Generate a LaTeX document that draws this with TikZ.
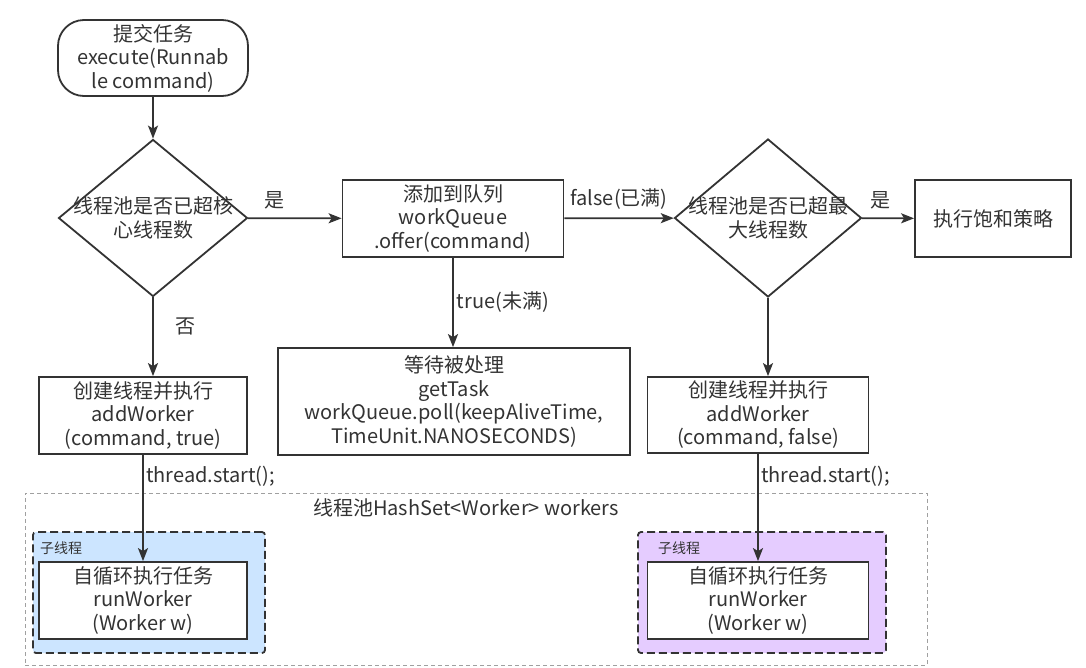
\documentclass[tikz,border=0pt]{standalone}
\usepackage{fontspec}
\setmainfont{Noto Sans CJK SC}
\usetikzlibrary{shapes.geometric, arrows.meta, positioning}
\definecolor{ink}{HTML}{333333}
\definecolor{poolgray}{HTML}{A0A0A0}
\definecolor{workerblue}{HTML}{CCE5FF}
\definecolor{workerpurple}{HTML}{E5CCFF}
\tikzstyle{startstop} = [rectangle, rounded corners=26pt, minimum width=190pt, minimum height=76pt, inner sep=0pt, align=center, draw=ink, line width=1.8pt]
\tikzstyle{decision} = [diamond, inner sep=0pt, minimum width=189pt, minimum height=157pt, draw=ink, line width=1.8pt]
\tikzstyle{process} = [rectangle, inner sep=0pt, align=center, draw=ink, line width=1.8pt, fill=white]
\tikzstyle{group} = [rectangle, rounded corners=3pt, draw=ink, line width=1.8pt, dash pattern=on 8pt off 4pt]
\tikzstyle{pool} = [rectangle, draw=poolgray, line width=1pt, dash pattern=on 4pt off 3pt]
\tikzstyle{arrow} = [line width=1.8pt, draw=ink, -{Stealth[length=13pt, width=10pt, inset=3pt]}]
\tikzstyle{tag} = [inner sep=2pt, text=ink]
\tikzstyle{small} = [inner sep=0pt, text=ink, font=\fontsize{14}{16}\selectfont]

\begin{document}
\begin{tikzpicture}[x=1pt, y=-1pt, text=ink, font=\fontsize{20}{23.5}\selectfont]
                \useasboundingbox (0,0) rectangle (1086,667);
                % pool of workers
                \node (pool) [pool, minimum width=902pt, minimum height=172pt] at (476,579) {};
                \node (pooltitle) [tag] at (466,508) {线程池HashSet<Worker> workers};
                \node (group1) [group, fill=workerblue, minimum width=232pt, minimum height=121pt] at (149,592.5) {};
                \node (group2) [group, fill=workerpurple, minimum width=248pt, minimum height=121pt] at (762,592.5) {};
                \node (sub1) [small, anchor=west] at (40,548) {子线程};
                \node (sub2) [small, anchor=west] at (658,548) {子线程};

                % main flow
                \node (submit) [startstop] at (153,58) {提交任务\\execute(Runnab\\le command)};
                \node (core) [decision, label={[align=center]center:线程池是否已超核\\心线程数}] at (153,218) {};
                \node (queue) [process, minimum width=221pt, minimum height=77pt] at (453,218.5) {添加到队列\\workQueue\\.offer(command)};
                \node (wait) [process, minimum width=352pt, minimum height=107pt] at (454,401.5) {等待被处理\\getTask\\workQueue.poll(keepAliveTime,\\TimeUnit.NANOSECONDS)};
                \node (max) [decision, minimum width=187pt, minimum height=158pt, label={[align=center]center:线程池是否已超最\\大线程数}] at (768,218) {};
                \node (reject) [process, minimum width=156pt, minimum height=77pt] at (993,218.5) {执行饱和策略};
                \node (create1) [process, minimum width=208pt, minimum height=77pt] at (143,415.5) {创建线程并执行\\addWorker\\(command, true)};
                \node (create2) [process, minimum width=221pt, minimum height=76pt] at (758,415) {创建线程并执行\\addWorker\\(command, false)};
                \node (run1) [process, minimum width=208pt, minimum height=77pt] at (143,600.5) {自循环执行任务\\runWorker\\(Worker w)};
                \node (run2) [process, minimum width=221pt, minimum height=77pt] at (758,600.5) {自循环执行任务\\runWorker\\(Worker w)};

                \draw [arrow] (submit) -- (core);
                \draw [arrow] (core) -- node [tag, above=6pt, pos=0.28] {是} (queue);
                \draw [arrow] (core.south) -- node [tag, right=20pt, pos=0.37] {否} (core.south |- create1.north);
                \draw [arrow] (queue) -- node [tag, above=6pt] {false(已满)} (max);
                \draw [arrow] (queue.south) -- node [tag, right=1pt] {true(未满)} (queue.south |- wait.north);
                \draw [arrow] (max) -- node [tag, above=6pt, pos=0.35] {是} (reject);
                \draw [arrow] (max.south) -- (max.south |- create2.north);
                \draw [arrow] (create1) -- (run1);
                \draw [arrow] (create2) -- (run2);
                \node (start1) [tag, anchor=west] at (144,476) {thread.start();};
                \node (start2) [tag, anchor=west] at (759,476) {thread.start();};
            \end{tikzpicture}
\end{document}
